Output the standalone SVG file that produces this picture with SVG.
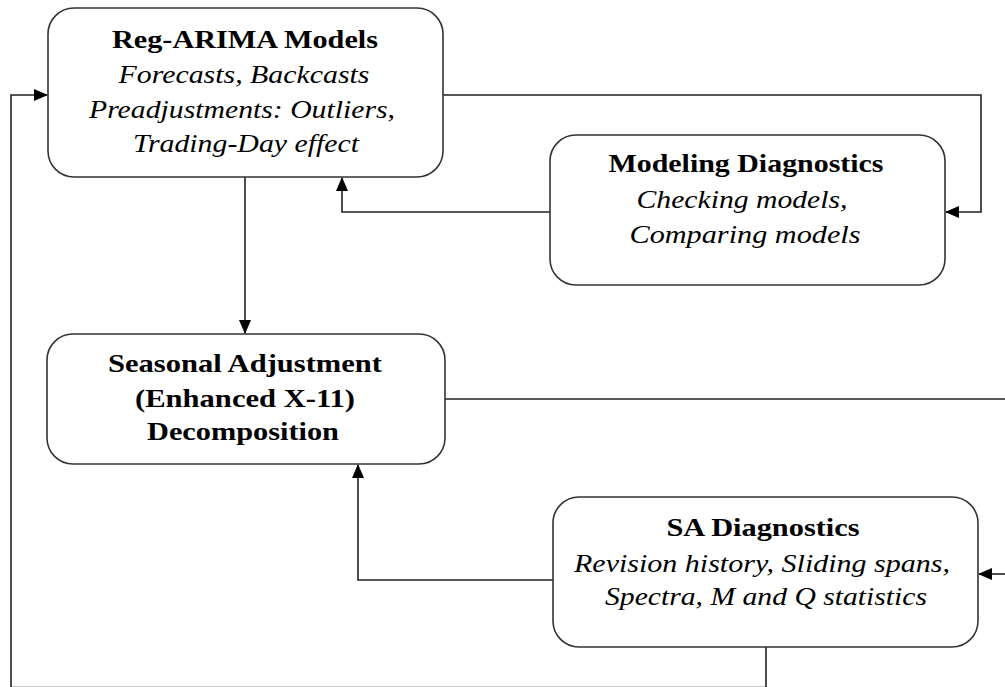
<svg xmlns="http://www.w3.org/2000/svg" width="1005" height="687" viewBox="0 0 1005 687">
<style>
.box{fill:#fff;stroke:#333;stroke-width:1.6}
.cn{fill:none;stroke:#222;stroke-width:1.6}
.t{font-family:"Liberation Serif","Times New Roman",serif;font-size:26px;fill:#000;text-anchor:middle}
.b{font-weight:bold}
.i{font-style:italic}
</style>
<defs>
<marker id="ah" markerUnits="userSpaceOnUse" markerWidth="14" markerHeight="12" viewBox="0 0 14 12" refX="13" refY="6" orient="auto">
<path d="M0 0 L14 6 L0 12 Z" fill="#000"/>
</marker>
</defs>
<rect width="1005" height="687" fill="#fff"/>
<g id="connectors">
<path class="cn" d="M443 95 H981 V212 H946" marker-end="url(#ah)"/>
<path class="cn" d="M550 212 H342 V178" marker-end="url(#ah)"/>
<path class="cn" d="M245 177 V333" marker-end="url(#ah)"/>
<path class="cn" d="M445 399 H1005"/>
<path class="cn" d="M553 580 H358 V465" marker-end="url(#ah)"/>
<path class="cn" d="M1005 574 H979" marker-end="url(#ah)"/>
<path class="cn" d="M766 647 V687.5 H11 V95 H47" marker-end="url(#ah)"/>
</g>
<g id="reg-arima">
<rect class="box" x="48" y="8" width="395" height="169" rx="26"/>
<text class="t b" x="245" y="48" textLength="266" lengthAdjust="spacingAndGlyphs">Reg-ARIMA Models</text>
<text class="t i" x="244" y="83" textLength="251" lengthAdjust="spacingAndGlyphs">Forecasts, Backcasts</text>
<text class="t i" x="242" y="118" textLength="306" lengthAdjust="spacingAndGlyphs">Preadjustments: Outliers,</text>
<text class="t i" x="246" y="152" textLength="226" lengthAdjust="spacingAndGlyphs">Trading-Day effect</text>
</g>
<g id="modeling-diagnostics">
<rect class="box" x="550" y="135" width="395" height="150" rx="26"/>
<text class="t b" x="746" y="172" textLength="275" lengthAdjust="spacingAndGlyphs">Modeling Diagnostics</text>
<text class="t i" x="742" y="208" textLength="211" lengthAdjust="spacingAndGlyphs">Checking models,</text>
<text class="t i" x="745" y="243" textLength="231" lengthAdjust="spacingAndGlyphs">Comparing models</text>
</g>
<g id="seasonal-adjustment">
<rect class="box" x="47" y="334" width="398" height="130" rx="26"/>
<text class="t b" x="245" y="372" textLength="274" lengthAdjust="spacingAndGlyphs">Seasonal Adjustment</text>
<text class="t b" x="245" y="407" textLength="220" lengthAdjust="spacingAndGlyphs">(Enhanced X-11)</text>
<text class="t b" x="243" y="440" textLength="192" lengthAdjust="spacingAndGlyphs">Decomposition</text>
</g>
<g id="sa-diagnostics">
<rect class="box" x="553" y="497" width="425" height="150" rx="26"/>
<text class="t b" x="763" y="536" textLength="193" lengthAdjust="spacingAndGlyphs">SA Diagnostics</text>
<text class="t i" x="762" y="572" textLength="376" lengthAdjust="spacingAndGlyphs">Revision history, Sliding spans,</text>
<text class="t i" x="766" y="605" textLength="322" lengthAdjust="spacingAndGlyphs">Spectra, M and Q statistics</text>
</g>
</svg>
